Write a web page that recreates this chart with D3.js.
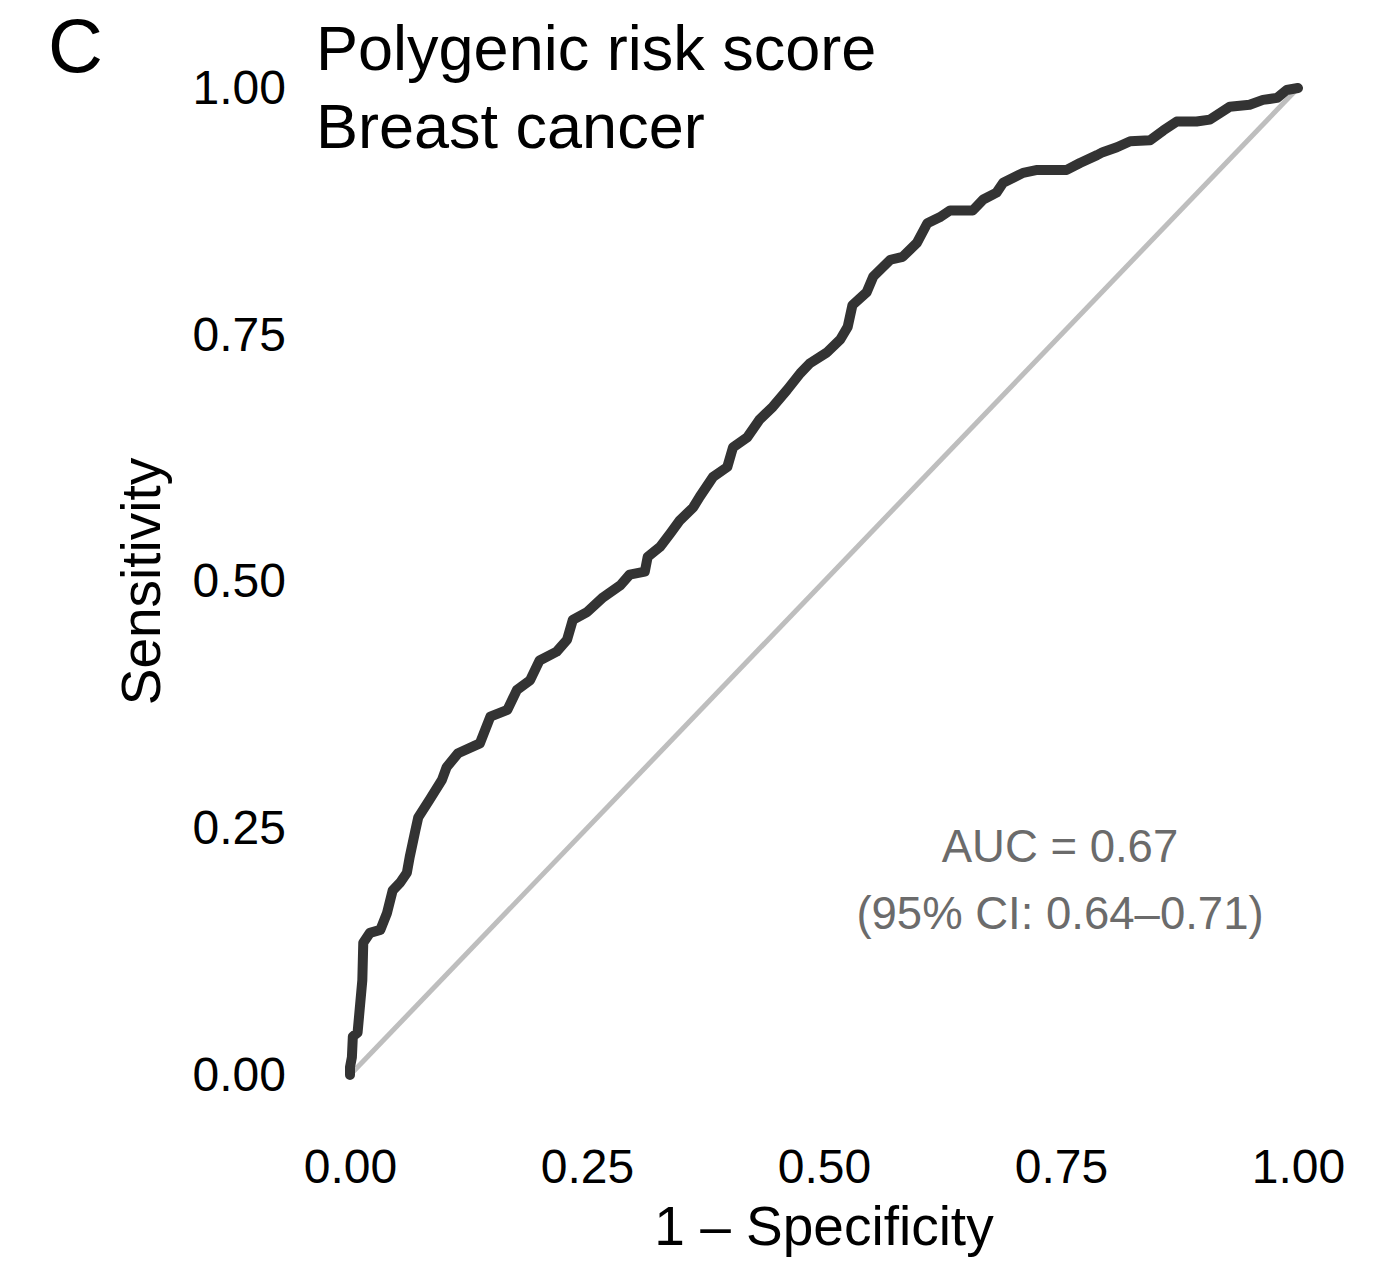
<!DOCTYPE html>
<html>
<head>
<meta charset="utf-8">
<script src="https://cdn.jsdelivr.net/npm/d3@7"></script>
<style>
  html, body { margin: 0; padding: 0; background: #fff; }
  svg { display: block; font-family: "Liberation Sans", Arial, Helvetica, sans-serif; }
</style>
</head>
<body>
<svg id="chart" width="1395" height="1267"></svg>
<script>
// ---- Data ----
const fpr = [0, 0, 0.002, 0.003, 0.008, 0.013, 0.014, 0.021, 0.032, 0.039, 0.045, 0.053, 0.060, 0.063, 0.069, 0.072, 0.084, 0.097, 0.102, 0.114, 0.137, 0.148, 0.166, 0.176, 0.190, 0.200, 0.218, 0.229, 0.235, 0.250, 0.267, 0.285, 0.295, 0.311, 0.314, 0.327, 0.338, 0.348, 0.362, 0.369, 0.383, 0.398, 0.404, 0.419, 0.432, 0.446, 0.461, 0.475, 0.485, 0.503, 0.517, 0.525, 0.530, 0.545, 0.552, 0.570, 0.583, 0.598, 0.609, 0.622, 0.633, 0.657, 0.668, 0.682, 0.689, 0.710, 0.725, 0.756, 0.770, 0.788, 0.794, 0.809, 0.823, 0.844, 0.858, 0.872, 0.893, 0.907, 0.928, 0.949, 0.963, 0.978, 0.988, 1];
const tpr = [0, 0.008, 0.018, 0.039, 0.043, 0.096, 0.134, 0.144, 0.147, 0.164, 0.187, 0.195, 0.205, 0.221, 0.248, 0.261, 0.279, 0.299, 0.312, 0.326, 0.336, 0.363, 0.370, 0.390, 0.400, 0.420, 0.429, 0.441, 0.461, 0.469, 0.484, 0.496, 0.507, 0.510, 0.525, 0.535, 0.549, 0.562, 0.575, 0.586, 0.606, 0.616, 0.636, 0.646, 0.664, 0.677, 0.694, 0.711, 0.721, 0.732, 0.745, 0.758, 0.780, 0.793, 0.809, 0.826, 0.829, 0.843, 0.863, 0.869, 0.876, 0.876, 0.887, 0.894, 0.904, 0.914, 0.917, 0.917, 0.924, 0.932, 0.935, 0.940, 0.946, 0.947, 0.957, 0.966, 0.966, 0.968, 0.981, 0.983, 0.988, 0.990, 0.998, 1];
const tickValues = [0, 0.25, 0.5, 0.75, 1];
const tickLabels = ["0.00", "0.25", "0.50", "0.75", "1.00"];
const titleLines = ["Polygenic risk score", "Breast cancer"];
const panelLabel = "C";
const xTitle = "1 \u2013 Specificity";
const yTitle = "Sensitivity";
const aucLines = ["AUC = 0.67", "(95% CI: 0.64\u20130.71)"];

// ---- Layout ----
const svg = d3.select("#chart");
const plotL = 350, plotR = 1298, plotT = 88, plotB = 1075;
const x = d3.scaleLinear().domain([0, 1]).range([plotL, plotR]);
const y = d3.scaleLinear().domain([0, 1]).range([plotB, plotT]);

// Diagonal reference line
svg.append("line")
  .attr("x1", x(0)).attr("y1", y(0))
  .attr("x2", x(1)).attr("y2", y(1))
  .attr("stroke", "#bebebe").attr("stroke-width", 5);

// ROC curve
const pts = fpr.map((f, i) => [f, tpr[i]]);
svg.append("path")
  .datum(pts)
  .attr("fill", "none")
  .attr("stroke", "#333333")
  .attr("stroke-width", 10)
  .attr("stroke-linejoin", "round")
  .attr("stroke-linecap", "round")
  .attr("d", d3.line().x(d => x(d[0])).y(d => y(d[1])));

// Axes (no lines/ticks, only labels)
const fmt = (d) => tickLabels[tickValues.indexOf(d)];
const xAxis = svg.append("g")
  .attr("transform", `translate(0,${plotB + 74})`)
  .call(d3.axisBottom(x).tickValues(tickValues).tickFormat(fmt).tickSize(0).tickPadding(0));
xAxis.select(".domain").remove();
xAxis.selectAll("text")
  .attr("font-size", 48).attr("fill", "#000")
  .attr("font-family", "Liberation Sans, Arial, sans-serif")
  .attr("dy", "0.71em");

const yAxis = svg.append("g")
  .attr("transform", `translate(${plotL - 64},0)`)
  .call(d3.axisLeft(y).tickValues(tickValues).tickFormat(fmt).tickSize(0).tickPadding(0));
yAxis.select(".domain").remove();
yAxis.selectAll("text")
  .attr("font-size", 48).attr("fill", "#000")
  .attr("font-family", "Liberation Sans, Arial, sans-serif");

// Axis titles
svg.append("text")
  .attr("x", (plotL + plotR) / 2).attr("y", 1245)
  .attr("text-anchor", "middle")
  .attr("font-size", 55).attr("fill", "#000")
  .text(xTitle);
svg.append("text")
  .attr("transform", `translate(160,${(plotT + plotB) / 2}) rotate(-90)`)
  .attr("text-anchor", "middle")
  .attr("font-size", 55).attr("fill", "#000")
  .text(yTitle);

// Title
svg.selectAll("text.title")
  .data(titleLines)
  .enter().append("text")
  .attr("class", "title")
  .attr("x", 316)
  .attr("y", (d, i) => 70 + i * 78)
  .attr("font-size", 63).attr("fill", "#000")
  .text(d => d);

// Panel label
svg.append("text")
  .attr("x", 48).attr("y", 72)
  .attr("font-size", 76).attr("fill", "#000")
  .text(panelLabel);

// AUC annotation
svg.selectAll("text.auc")
  .data(aucLines)
  .enter().append("text")
  .attr("class", "auc")
  .attr("x", 1060)
  .attr("y", (d, i) => 862 + i * 67)
  .attr("text-anchor", "middle")
  .attr("font-size", 45.5).attr("fill", "#6b6b6b")
  .text(d => d);
</script>
</body>
</html>
